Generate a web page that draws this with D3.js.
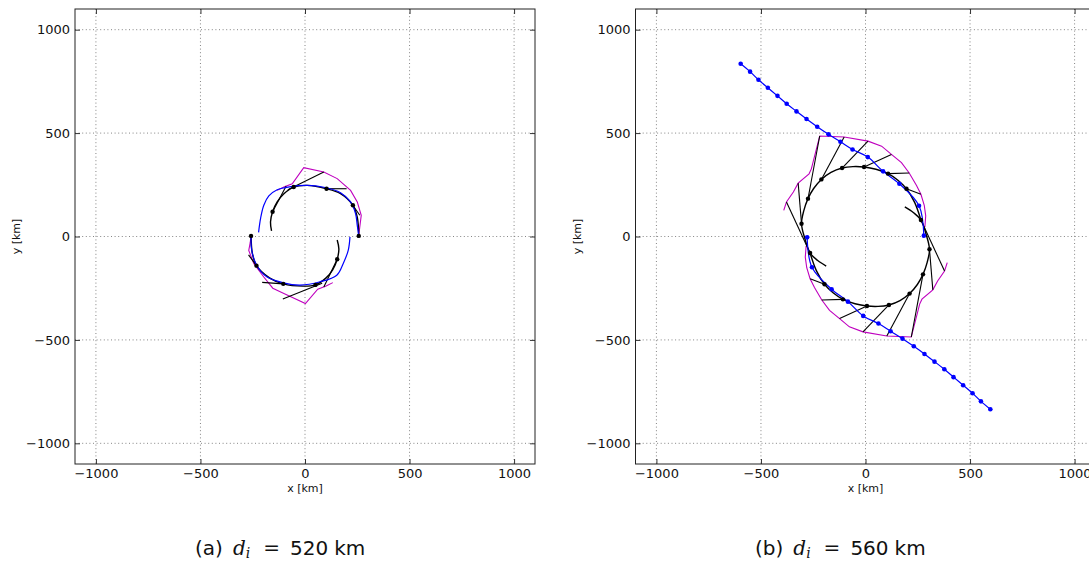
<!DOCTYPE html>
<html>
<head>
<meta charset="utf-8">
<script src="https://cdn.jsdelivr.net/npm/d3@7"></script>
<style>
  body { margin: 0; background: #fff; }
  svg { display: block; }
  text { font-family: "DejaVu Sans", sans-serif; fill: #111; }
</style>
</head>
<body>
<svg id="fig" width="1089" height="563"></svg>
<script>
// ---- axes ----
const axisDomain = [-1100, 1100];
const tickValues = [-1000, -500, 0, 500, 1000];
const xLabel = "x [km]";
const yLabel = "y [km]";

// ---- panel (a): d_i = 520 km ----
const aBlueUpper = [[-222,20],[-212,90],[-197,151],[-173,196],[-133,226],[-69,241],[10,247],[90,238],[170,212],[218,167],[242,110],[250,54],[257,3]];
const aBlueLower = [[215,-2],[207,-66],[183,-130],[152,-187],[72,-219],[-24,-235],[-104,-224],[-183,-195],[-231,-139],[-255,-66],[-258,3]];
const aMagUpper = [[-133,223],[-101,239],[-61,255],[-6,333],[90,312],[154,280],[218,223],[250,167],[269,102],[262,46],[257,3]];
const aMagLower = [[133,-223],[101,-239],[61,-255],[2,-324],[-101,-276],[-154,-250],[-197,-196],[-245,-131],[-269,-67],[-262,-30],[-258,3]];
const aArmUpper = [[-160,27],[-165,70],[-155,120],[-133,167],[-101,207],[-54,239],[10,247],[103,231],[170,207],[229,151],[250,94],[257,3]];
const aArmLower = [[154,-17],[162,-60],[154,-110],[133,-160],[101,-200],[50,-234],[-10,-240],[-104,-229],[-170,-200],[-232,-141],[-252,-80],[-258,3]];
const aDots = [[-155,120],[-54,239],[103,231],[229,151],[257,3],[154,-110],[50,-234],[-104,-229],[-232,-141],[-258,3]];
const aLinks = [
  [[-155,120],[-90,244]], [[-82,226],[90,312]], [[103,231],[199,231]], [[229,151],[262,103]],
  [[154,-110],[90,-244]], [[82,-226],[-106,-302]], [[-104,-229],[-205,-222]], [[-232,-141],[-270,-89]]
];

// ---- panel (b): d_i = 560 km ----
const bBlueIn = [[-597,835],[-552,797],[-512,758],[-467,719],[-421,680],[-377,642],[-330,605],[-282,568],[-231,531],[-177,494],[-120,458],[-62,421],[11,384],[84,315],[162,255],[256,149],[279,4]];
const bBlueOut = [[-279,-4],[-256,-149],[-162,-255],[-84,-315],[-11,-384],[62,-421],[120,-458],[177,-494],[231,-531],[282,-568],[330,-605],[377,-642],[421,-680],[467,-719],[512,-758],[552,-797],[597,-835]];
const bMagUpper = [[-391,126],[-378,167],[-345,215],[-322,258],[-270,303],[-259,327],[-219,486],[-102,481],[12,461],[77,437],[124,397],[172,357],[209,307],[244,247],[265,204],[281,151],[288,100],[284,46]];
const bMagLower = [[391,-126],[378,-167],[345,-215],[322,-258],[270,-303],[259,-327],[219,-486],[102,-481],[-12,-461],[-77,-437],[-124,-397],[-172,-357],[-209,-307],[-244,-247],[-265,-204],[-281,-151],[-288,-100],[-284,-46]];
const bArmUpper = [[-188,-143],[-230,-115],[-265,-80],[-290,-10],[-306,62],[-295,125],[-275,183],[-248,232],[-211,276],[-165,310],[-112,331],[-60,338],[-7,336],[50,325],[108,304],[155,272],[196,231],[235,165],[265,80]];
const bArmLower = [[188,143],[230,115],[265,80],[290,10],[306,-62],[295,-125],[275,-183],[248,-232],[211,-276],[165,-310],[112,-331],[60,-338],[7,-336],[-50,-325],[-108,-304],[-155,-272],[-196,-231],[-235,-165],[-265,-80]];
const bDots = [[-265,-80],[-306,62],[-275,183],[-211,276],[-112,331],[-7,336],[108,304],[196,231],[265,80],
               [306,-62],[275,-183],[211,-276],[112,-331],[7,-336],[-108,-304],[-196,-231]];
const bLinks = [
  [[-265,-80],[-378,167]], [[-306,62],[-322,258]], [[-275,183],[-219,486]], [[-211,276],[-102,481]],
  [[-112,331],[12,461]], [[-7,336],[124,397]], [[108,304],[209,307]], [[196,231],[265,204]],
  [[265,80],[378,-167]], [[306,-62],[322,-258]], [[275,-183],[219,-486]], [[211,-276],[102,-481]],
  [[112,-331],[-12,-461]], [[7,-336],[-124,-397]], [[-108,-304],[-209,-307]], [[-196,-231],[-265,-204]]
];

const svg = d3.select("#fig");
const BLUE = "#0000ff", MAG = "#bf00bf", BLACK = "#000";

function drawPanel(id, left, d) {
  const top = 9, width = 460, height = 455;
  const x = d3.scaleLinear().domain(axisDomain).range([left, left + width]);
  const y = d3.scaleLinear().domain(axisDomain).range([top + height, top]);
  const g = svg.append("g");

  g.append("clipPath").attr("id", "clip-" + id)
    .append("rect").attr("x", left).attr("y", top).attr("width", width).attr("height", height);

  // dotted grid
  const grid = g.append("g").attr("stroke", "#777").attr("stroke-width", 0.9)
    .attr("stroke-dasharray", "1,2.6");
  tickValues.forEach(v => {
    grid.append("line").attr("x1", x(v)).attr("x2", x(v)).attr("y1", top).attr("y2", top + height);
    grid.append("line").attr("x1", left).attr("x2", left + width).attr("y1", y(v)).attr("y2", y(v));
  });

  // axes with inward ticks on all sides
  const fmt = d3.format("d");
  const bottom = g.append("g").attr("transform", `translate(0,${top + height})`)
    .call(d3.axisBottom(x).tickValues(tickValues).tickSizeInner(-5).tickSizeOuter(0).tickPadding(5).tickFormat(fmt));
  const topAx = g.append("g").attr("transform", `translate(0,${top})`)
    .call(d3.axisTop(x).tickValues(tickValues).tickSizeInner(-5).tickSizeOuter(0).tickFormat(""));
  const leftAx = g.append("g").attr("transform", `translate(${left},0)`)
    .call(d3.axisLeft(y).tickValues(tickValues).tickSizeInner(-5).tickSizeOuter(0).tickPadding(5).tickFormat(fmt));
  const rightAx = g.append("g").attr("transform", `translate(${left + width},0)`)
    .call(d3.axisRight(y).tickValues(tickValues).tickSizeInner(-5).tickSizeOuter(0).tickFormat(""));
  [bottom, topAx, leftAx, rightAx].forEach(a => {
    a.select(".domain").remove();
    a.selectAll(".tick line").attr("stroke", "#333");
    a.selectAll("text").attr("font-size", 13).attr("font-family", "DejaVu Sans").attr("fill", "#111");
  });

  // data marks
  const plot = g.append("g").attr("clip-path", `url(#clip-${id})`);
  const smooth = d3.line().x(p => x(p[0])).y(p => y(p[1])).curve(d3.curveCatmullRom.alpha(0.5));
  const poly = d3.line().x(p => x(p[0])).y(p => y(p[1]));

  d.mag.forEach(s => plot.append("path").attr("d", poly(s)).attr("fill", "none")
    .attr("stroke", MAG).attr("stroke-width", 1.1));
  d.links.forEach(s => plot.append("path").attr("d", poly(s)).attr("fill", "none")
    .attr("stroke", BLACK).attr("stroke-width", 1.1));
  d.arms.forEach(s => plot.append("path").attr("d", smooth(s)).attr("fill", "none")
    .attr("stroke", BLACK).attr("stroke-width", 1.4));
  d.blue.forEach(s => plot.append("path").attr("d", smooth(s)).attr("fill", "none")
    .attr("stroke", BLUE).attr("stroke-width", 1.2));
  if (d.blueDots) d.blue.forEach(s => plot.selectAll(null).data(s).enter().append("circle")
    .attr("cx", p => x(p[0])).attr("cy", p => y(p[1])).attr("r", 2.3).attr("fill", BLUE));
  plot.selectAll(null).data(d.dots).enter().append("circle")
    .attr("cx", p => x(p[0])).attr("cy", p => y(p[1])).attr("r", 2.2).attr("fill", BLACK);

  // frame
  g.append("rect").attr("x", left).attr("y", top).attr("width", width).attr("height", height)
    .attr("fill", "none").attr("stroke", "#222").attr("stroke-width", 1);

  // axis titles
  g.append("text").attr("x", left + width / 2).attr("y", top + height + 28)
    .attr("text-anchor", "middle").attr("font-size", 11).text(xLabel);
  g.append("text").attr("transform", `translate(${left - 55},${top + height / 2}) rotate(-90)`)
    .attr("text-anchor", "middle").attr("font-size", 11).text(yLabel);
}

drawPanel("a", 75, { blue: [aBlueUpper, aBlueLower], mag: [aMagUpper, aMagLower],
  arms: [aArmUpper, aArmLower], dots: aDots, links: aLinks, blueDots: false });
drawPanel("b", 635.5, { blue: [bBlueIn, bBlueOut], mag: [bMagUpper, bMagLower],
  arms: [bArmUpper, bArmLower], dots: bDots, links: bLinks, blueDots: true });

// sub-figure captions
function caption(x0, letter, value) {
  const t = svg.append("text").attr("x", x0).attr("y", 555).attr("text-anchor", "start")
    .attr("font-size", 20).attr("font-family", "DejaVu Sans");
  t.append("tspan").text(`(${letter})`);
  t.append("tspan").attr("dx", 10).attr("font-family", "DejaVu Serif").attr("font-style", "italic").text("d");
  t.append("tspan").attr("font-family", "DejaVu Serif").attr("font-style", "italic")
    .attr("font-size", 14).attr("dy", 3).text("i");
  t.append("tspan").attr("dy", -3).attr("dx", 13).attr("font-family", "DejaVu Serif").text("=");
  t.append("tspan").attr("dx", 10).text(`${value}`);
  t.append("tspan").attr("dx", 6).text("km");
}
caption(195, "a", 520);
caption(755, "b", 560);
</script>
</body>
</html>
